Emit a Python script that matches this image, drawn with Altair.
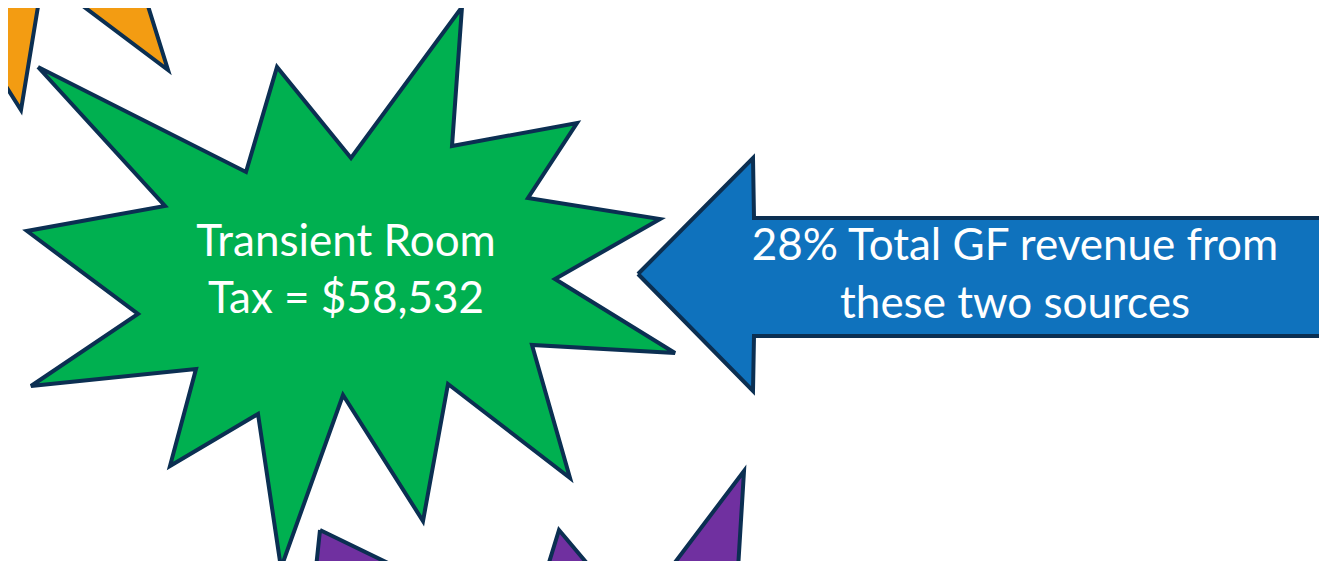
import altair as alt
import pandas as pd

# Shape outlines (reference pixel coordinates)
orange_x = [-60, -60, 0, 21, 43, 168, 143, 140, -60]
orange_y = [-60, 20, 77, 110, -24, 70, -10, -60, -60]

green_x = [38, 246, 277, 351, 462, 452, 577, 528, 660, 555, 675, 532, 570, 448, 423, 343, 281, 258, 170, 196, 31, 138, 27, 165]
green_y = [67, 172, 67, 158, 7, 146, 123, 198, 219, 279, 353, 345, 478, 384, 521, 395, 568, 414, 466, 369, 386, 314, 231, 206]

purple_x = [320, 528, 559, 633, 744, 730, 800, 300]
purple_y = [530, 631, 530, 618, 471, 700, 720, 720]

arrow_x = [638, 753, 754, 1400, 1400, 754, 753]
arrow_y = [274, 158, 218, 218, 336, 336, 391]

green_text = ["Transient Room", "Tax = $58,532"]
green_text_x = [346, 346]
green_text_y = [243, 300]

arrow_text = ["28% Total GF revenue from", "these two sources"]
arrow_text_x = [1015, 1015]
arrow_text_y = [247, 305]

X0, X1, Y0, Y1 = 8, 1319, 8, 561
xs = alt.Scale(domain=[X0, X1], nice=False, zero=False)
ys = alt.Scale(domain=[Y0, Y1], nice=False, zero=False, reverse=True)

STROKE = "#0B2F52"


def poly(xv, yv, color):
    df = pd.DataFrame({"x": list(xv) + [xv[0]], "y": list(yv) + [yv[0]]})
    df["i"] = range(len(df))
    return alt.Chart(df).mark_line(
        fill=color, stroke=STROKE, strokeWidth=4, strokeJoin="miter", clip=True
    ).encode(
        x=alt.X("x:Q", scale=xs, axis=None),
        y=alt.Y("y:Q", scale=ys, axis=None),
        order="i:O",
    )


def labels(t, xv, yv):
    df = pd.DataFrame({"t": t, "x": xv, "y": yv})
    return alt.Chart(df).mark_text(
        font="Lato", fontSize=44, color="white", baseline="middle", align="center"
    ).encode(
        x=alt.X("x:Q", scale=xs, axis=None),
        y=alt.Y("y:Q", scale=ys, axis=None),
        text="t:N",
    )


chart = alt.layer(
    poly(orange_x, orange_y, "#F39C12"),
    poly(green_x, green_y, "#00B050"),
    poly(purple_x, purple_y, "#7030A0"),
    poly(arrow_x, arrow_y, "#0F72BD"),
    labels(green_text, green_text_x, green_text_y),
    labels(arrow_text, arrow_text_x, arrow_text_y),
).properties(
    width=X1 - X0, height=Y1 - Y0, padding=0
).configure_view(stroke=None)

chart.save("out.html", embed_options={"renderer": "svg", "actions": False})
